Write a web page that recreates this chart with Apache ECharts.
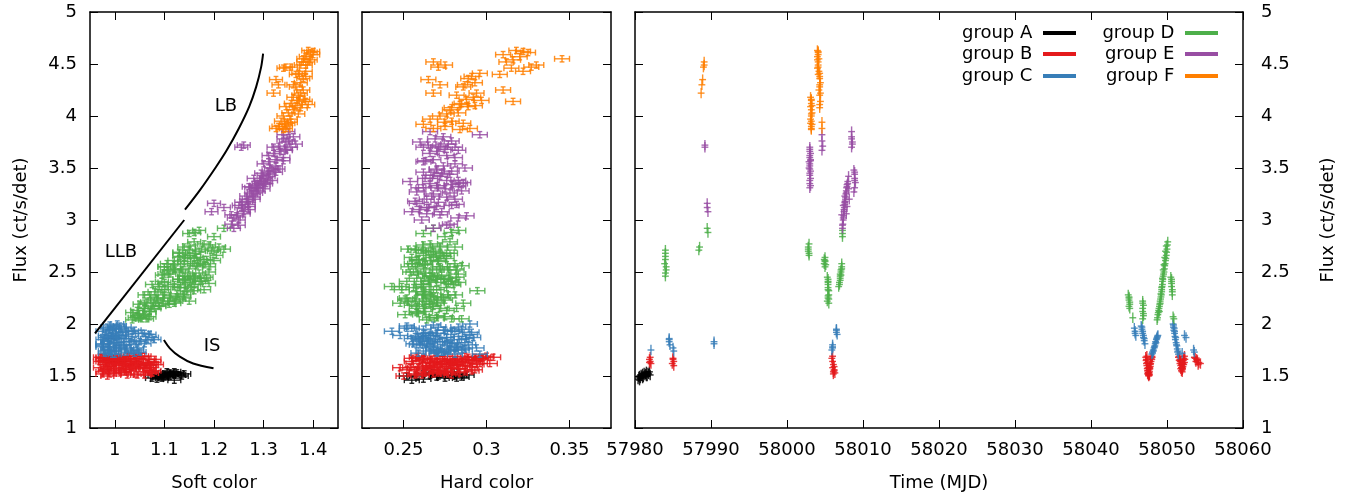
<!DOCTYPE html>
<html>
<head>
<meta charset="utf-8">
<script src="https://cdn.jsdelivr.net/npm/echarts@6/dist/echarts.min.js"></script>
<style>
html,body{margin:0;padding:0;background:#fff;}
#chart{width:1359px;height:497px;}
</style>
</head>
<body>
<div id="chart"></div>
<script>
// ---------- DATA: each point is [time (MJD), flux, soft color, hard color] ----------
const groupA = [
  [57980.4,1.47,1.085,0.262],[57980.5,1.49,1.10,0.270],[57980.6,1.50,1.11,0.258],
  [57980.7,1.48,1.095,0.275],[57980.8,1.51,1.12,0.266],[57980.9,1.50,1.105,0.281],
  [57981.0,1.52,1.115,0.272],[57981.1,1.49,1.09,0.285],[57981.2,1.53,1.125,0.268],
  [57981.3,1.51,1.13,0.277],[57981.4,1.52,1.10,0.262],[57981.5,1.54,1.12,0.279],
  [57981.6,1.50,1.135,0.271],[57981.7,1.53,1.11,0.283],[57981.8,1.52,1.14,0.267],
  [57981.9,1.54,1.105,0.276],[57982.0,1.51,1.08,0.288],[57980.6,1.46,1.12,0.255],
  [57981.0,1.48,1.075,0.282],[57981.5,1.50,1.095,0.252]
];
const groupB = [
  [57981.9,1.66,0.99,0.262],[57982.0,1.64,1.02,0.270],[57982.0,1.68,1.005,0.258],
  [57982.1,1.62,1.045,0.276],[57981.9,1.63,0.98,0.266],
  [57985.0,1.66,1.01,0.272],[57985.1,1.64,1.035,0.281],[57984.9,1.62,0.995,0.268],
  [57985.1,1.60,1.06,0.284],[57985.0,1.67,0.975,0.255],
  [58005.9,1.67,1.00,0.262],[58006.0,1.64,1.03,0.275],[58006.1,1.61,1.05,0.280],
  [58006.0,1.58,1.07,0.269],[58006.2,1.56,1.02,0.258],[58006.1,1.54,0.975,0.287],
  [58006.2,1.59,0.985,0.264],[58006.3,1.53,1.075,0.272],
  [58006.1,1.52,0.99,0.277],[58006.2,1.55,1.08,0.266],[58006.0,1.69,1.055,0.259],
  [58047.2,1.68,0.97,0.298],[58047.25,1.65,0.985,0.292],[58047.3,1.62,1.00,0.302],
  [58047.35,1.60,1.015,0.287],[58047.4,1.57,1.03,0.279],[58047.45,1.55,1.07,0.271],
  [58047.5,1.53,1.00,0.263],[58047.55,1.51,1.045,0.257],[58047.6,1.50,0.985,0.250],
  [58047.65,1.52,1.04,0.268],[58047.7,1.54,1.02,0.275],[58047.75,1.57,1.00,0.283],
  [58047.8,1.59,0.99,0.290],[58047.85,1.62,1.025,0.296],[58047.9,1.64,0.98,0.285],
  [58048.0,1.66,1.005,0.278],[58048.05,1.68,0.975,0.293],[58047.5,1.58,1.035,0.248],
  [58047.3,1.66,1.07,0.281],[58047.4,1.63,1.08,0.266],[58047.45,1.52,0.975,0.258],
  [58047.5,1.55,0.99,0.272],[58047.55,1.53,1.01,0.284],[58047.6,1.51,1.025,0.261],
  [58047.65,1.56,0.98,0.293],[58047.7,1.58,1.065,0.254],[58047.8,1.61,1.075,0.276],
  [58047.9,1.67,1.05,0.269],[58048.0,1.69,1.03,0.300],[58047.35,1.69,1.04,0.287],
  [58047.6,1.53,1.075,0.270],[58047.7,1.51,1.06,0.279],
  [58051.5,1.68,0.98,0.289],[58051.6,1.65,1.00,0.281],[58051.7,1.62,1.02,0.273],
  [58051.8,1.60,1.04,0.266],[58051.9,1.58,1.06,0.259],[58052.0,1.56,1.03,0.252],
  [58052.05,1.57,1.05,0.262],[58052.1,1.59,1.03,0.270],[58052.2,1.61,1.01,0.278],
  [58052.3,1.63,0.99,0.286],[58052.35,1.66,1.015,0.294],[58051.75,1.64,0.97,0.255],
  [58051.95,1.61,1.085,0.282],[58052.15,1.65,0.995,0.260],
  [58051.6,1.69,1.06,0.275],[58051.7,1.66,1.08,0.262],[58051.8,1.57,0.985,0.283],
  [58051.9,1.55,1.01,0.291],[58052.0,1.58,0.97,0.268],[58052.1,1.62,1.065,0.256],
  [58052.2,1.67,1.045,0.297],[58052.3,1.69,1.025,0.270],[58052.0,1.54,1.07,0.276],
  [58053.6,1.68,1.01,0.304],[58053.7,1.67,0.985,0.296],[58053.9,1.66,1.04,0.288],
  [58054.0,1.65,1.02,0.291],[58054.2,1.63,1.055,0.283],[58054.4,1.62,0.995,0.277],
  [58053.8,1.64,0.975,0.279],[58054.1,1.61,1.07,0.294]
];
const groupC = [
  [57982.1,1.75,0.99,0.268],
  [57984.5,1.86,1.01,0.262],[57984.5,1.83,0.985,0.275],[57984.6,1.80,1.02,0.258],
  [57984.5,1.85,0.975,0.285],
  [57985.0,1.77,1.00,0.282],[57985.1,1.74,1.035,0.270],
  [57990.4,1.83,1.05,0.266],[57990.4,1.81,1.06,0.279],
  [58006.0,1.80,0.975,0.289],[58006.0,1.77,1.01,0.294],[58005.9,1.75,1.045,0.277],
  [58006.0,1.78,0.99,0.268],
  [58006.5,1.95,0.99,0.285],[58006.5,1.92,1.015,0.291],[58006.6,1.90,1.07,0.290],
  [58006.5,1.94,1.04,0.275],
  [58045.7,1.96,1.00,0.255],[58045.8,1.93,1.025,0.243],[58045.9,1.89,0.98,0.248],
  [58045.8,1.91,0.995,0.262],
  [58046.6,1.98,1.01,0.252],[58046.7,1.95,0.995,0.262],[58046.8,1.91,1.055,0.270],
  [58046.9,1.87,1.075,0.259],[58047.0,1.84,1.04,0.265],[58047.1,1.81,0.975,0.256],
  [58046.7,1.97,0.985,0.271],[58046.8,1.93,1.035,0.281],[58046.9,1.89,1.01,0.265],
  [58047.0,1.86,0.99,0.288],
  [58048.0,1.71,1.00,0.281],[58048.1,1.73,1.02,0.274],[58048.2,1.75,0.985,0.285],
  [58048.3,1.77,1.045,0.268],[58048.4,1.79,1.01,0.278],[58048.45,1.81,0.99,0.264],
  [58048.5,1.83,1.03,0.272],[58048.6,1.85,1.065,0.260],[58048.7,1.87,0.98,0.276],
  [58048.8,1.89,1.015,0.268],
  [58048.1,1.72,0.98,0.270],[58048.2,1.74,1.00,0.262],[58048.35,1.78,0.975,0.281],
  [58048.55,1.82,1.005,0.287],[58048.65,1.86,1.02,0.255],[58048.75,1.88,0.995,0.283],
  [58050.8,2.00,1.005,0.290],[58050.85,1.97,1.02,0.283],[58050.9,1.94,0.99,0.274],
  [58051.0,1.91,1.06,0.263],[58051.05,1.88,1.035,0.257],[58051.1,1.85,1.08,0.269],
  [58051.2,1.82,1.00,0.278],[58051.3,1.79,0.975,0.266],[58051.35,1.76,1.025,0.287],
  [58051.4,1.73,1.05,0.271],[58051.5,1.71,0.995,0.296],
  [58050.85,1.99,0.99,0.268],[58050.95,1.96,1.01,0.252],[58051.0,1.93,0.975,0.279],
  [58051.15,1.87,1.00,0.292],[58051.25,1.80,1.03,0.260],[58051.45,1.74,0.98,0.276],
  [58052.0,1.72,1.04,0.259],
  [58052.3,1.89,1.005,0.266],[58052.5,1.87,0.985,0.276],
  [58053.5,1.75,1.02,0.283],[58053.6,1.73,0.99,0.273]
];
const groupD = [
  [57984.0,2.71,1.15,0.262],[57984.0,2.65,1.13,0.270],[57983.9,2.58,1.16,0.255],
  [57984.1,2.52,1.12,0.277],[57984.0,2.46,1.14,0.266],
  [57984.0,2.62,1.185,0.259],[57984.1,2.55,1.10,0.272],[57984.0,2.49,1.17,0.263],
  [57984.0,2.68,1.16,0.276],
  [57988.4,2.71,1.195,0.259],[57988.5,2.74,1.21,0.272],
  [57989.5,2.92,1.22,0.268],[57989.6,2.88,1.16,0.279],
  [58002.8,2.74,1.14,0.281],[58002.8,2.70,1.17,0.265],[58002.9,2.66,1.205,0.274],
  [58002.8,2.72,1.22,0.257],[58002.9,2.68,1.13,0.278],[58002.9,2.77,1.18,0.266],
  [58004.9,2.62,1.18,0.258],[58005.0,2.60,1.14,0.271],[58005.1,2.57,1.12,0.263],[58005.0,2.55,1.19,0.278],
  [58005.0,2.61,1.20,0.266],[58004.9,2.58,1.105,0.281],[58005.0,2.64,1.165,0.268],
  [58005.3,2.45,1.16,0.268],[58005.4,2.40,1.10,0.283],[58005.4,2.35,1.13,0.256],
  [58005.5,2.32,1.16,0.2945],[58005.4,2.25,1.085,0.274],[58005.5,2.20,1.12,0.286],
  [58005.4,2.43,1.13,0.275],[58005.4,2.38,1.16,0.262],[58005.5,2.28,1.14,0.281],
  [58005.3,2.22,1.15,0.253],[58005.4,2.27,1.11,0.266],
  [58005.4,2.33,1.095,0.270],[58005.4,2.41,1.175,0.252],[58005.5,2.24,1.13,0.262],
  [58006.8,2.36,1.09,0.262],[58006.9,2.40,1.15,0.270],[58007.0,2.44,1.18,0.277],
  [58007.0,2.48,1.11,0.259],[58007.1,2.52,1.135,0.282],[58007.2,2.55,1.10,0.253],
  [58006.9,2.38,1.12,0.280],[58007.0,2.46,1.16,0.266],[58007.1,2.50,1.19,0.254],[58007.2,2.53,1.15,0.272],
  [58007.0,2.42,1.14,0.265],[58007.1,2.47,1.095,0.273],[58007.2,2.58,1.17,0.260],
  [58007.3,2.90,1.17,0.283],[58007.3,2.84,1.20,0.275],[58007.3,2.87,1.15,0.262],
  [58044.9,2.28,1.07,0.262],[58045.0,2.25,1.10,0.252],[58045.1,2.21,1.065,0.270],[58045.0,2.17,1.09,0.258],
  [58045.0,2.23,1.08,0.275],[58045.1,2.19,1.11,0.266],[58045.0,2.26,1.125,0.268],[58045.1,2.15,1.06,0.262],
  [58045.5,2.06,1.04,0.266],
  [58046.8,2.20,1.06,0.248],[58046.8,2.15,1.08,0.272],[58046.9,2.10,1.05,0.259],[58046.8,2.05,1.065,0.279],
  [58046.8,2.12,1.07,0.263],[58046.9,2.18,1.09,0.255],[58046.9,2.08,1.045,0.270],[58046.8,2.22,1.12,0.264],
  [58048.7,2.04,1.035,0.264],[58048.8,2.09,1.06,0.251],[58048.9,2.13,1.045,0.276],
  [58049.0,2.17,1.075,0.268],[58049.1,2.22,1.11,0.257],[58049.2,2.26,1.14,0.273],
  [58049.3,2.31,1.08,0.262],[58049.35,2.36,1.12,0.249],[58049.4,2.41,1.095,0.279],
  [58049.5,2.46,1.15,0.267],[58049.6,2.50,1.13,0.256],[58049.7,2.56,1.165,0.285],
  [58049.8,2.61,1.12,0.271],[58049.9,2.66,1.15,0.262],[58050.0,2.72,1.175,0.253],
  [58050.1,2.79,1.16,0.278],
  [58048.75,2.06,1.05,0.270],[58048.85,2.11,1.035,0.258],[58048.95,2.15,1.06,0.282],
  [58049.05,2.19,1.05,0.263],[58049.15,2.24,1.085,0.251],[58049.25,2.28,1.06,0.277],
  [58049.3,2.33,1.10,0.268],[58049.4,2.38,1.075,0.261],[58049.45,2.43,1.13,0.274],
  [58049.55,2.48,1.10,0.283],[58049.65,2.53,1.12,0.262],[58049.75,2.58,1.14,0.257],
  [58049.85,2.63,1.16,0.276],[58049.95,2.69,1.13,0.268],[58050.05,2.76,1.19,0.262],
  [58049.0,2.12,1.07,0.258],[58049.1,2.20,1.095,0.270],[58049.2,2.29,1.125,0.262],
  [58049.3,2.35,1.14,0.276],[58049.4,2.44,1.16,0.258],[58049.5,2.52,1.105,0.270],
  [58049.6,2.57,1.18,0.263],[58049.7,2.64,1.14,0.255],[58049.8,2.70,1.20,0.268],
  [58049.9,2.75,1.15,0.272],
  [58050.5,2.45,1.185,0.282],[58050.6,2.41,1.17,0.265],[58050.6,2.36,1.155,0.243],[58050.7,2.31,1.145,0.258],
  [58050.6,2.39,1.19,0.277],[58050.7,2.33,1.18,0.249],[58050.6,2.43,1.14,0.270],[58050.7,2.28,1.10,0.263],
  [58050.8,2.07,1.07,0.275],[58050.9,2.05,1.055,0.285]
];
const groupE = [
  [57989.2,3.72,1.26,0.265],[57989.2,3.70,1.255,0.271],
  [57989.5,3.16,1.20,0.258],[57989.5,3.12,1.22,0.264],[57989.6,3.08,1.195,0.255],
  [58003.0,3.70,1.32,0.262],[58003.0,3.66,1.335,0.270],[58003.0,3.62,1.31,0.276],
  [58003.1,3.58,1.325,0.268],[58003.0,3.54,1.30,0.281],[58002.9,3.50,1.315,0.287],
  [58003.0,3.45,1.295,0.273],[58003.1,3.40,1.28,0.266],[58003.0,3.35,1.29,0.284],
  [58003.0,3.31,1.275,0.259],
  [58003.0,3.68,1.345,0.275],[58003.1,3.64,1.32,0.266],[58003.0,3.60,1.34,0.281],
  [58002.9,3.56,1.31,0.262],[58003.0,3.52,1.325,0.274],[58003.1,3.47,1.31,0.279],
  [58003.0,3.43,1.30,0.268],[58003.0,3.38,1.295,0.276],[58003.1,3.33,1.285,0.270],
  [58003.0,3.49,1.33,0.270],[58003.1,3.57,1.34,0.263],
  [58004.6,3.82,1.34,0.296],[58004.6,3.76,1.35,0.279],[58004.7,3.71,1.33,0.272],[58004.6,3.67,1.345,0.283],
  [58007.3,2.92,1.24,0.268],[58007.35,2.96,1.235,0.278],[58007.4,3.00,1.25,0.261],
  [58007.45,3.04,1.245,0.288],[58007.5,3.08,1.26,0.273],[58007.55,3.12,1.255,0.265],
  [58007.6,3.15,1.27,0.282],[58007.65,3.18,1.265,0.257],[58007.7,3.22,1.28,0.276],
  [58007.75,3.25,1.275,0.268],[58007.8,3.28,1.29,0.285],[58007.85,3.31,1.285,0.262],
  [58007.9,3.34,1.30,0.279],[58008.0,3.37,1.295,0.254],
  [58007.3,2.95,1.25,0.276],[58007.4,3.02,1.24,0.283],[58007.5,3.10,1.27,0.260],
  [58007.6,3.17,1.255,0.271],[58007.7,3.20,1.27,0.264],[58007.8,3.26,1.285,0.278],
  [58007.9,3.32,1.27,0.283],[58008.0,3.35,1.305,0.266],
  [58007.2,3.05,1.235,0.272],[58007.4,3.14,1.25,0.279],[58007.6,3.23,1.265,0.267],
  [58007.8,3.06,1.26,0.264],[58008.1,3.30,1.30,0.275],[58008.2,3.20,1.28,0.281],
  [58007.9,3.13,1.27,0.270],[58008.1,3.42,1.31,0.272],
  [58008.5,3.85,1.35,0.266],[58008.5,3.80,1.36,0.274],[58008.6,3.75,1.345,0.260],[58008.5,3.70,1.355,0.281],
  [58008.5,3.78,1.34,0.269],[58008.6,3.73,1.365,0.277],
  [58008.8,3.48,1.32,0.270],[58008.9,3.44,1.31,0.278],[58008.9,3.40,1.305,0.263],
  [58009.0,3.36,1.30,0.286],[58008.9,3.31,1.285,0.271],[58008.8,3.27,1.28,0.258],
  [58008.9,3.46,1.325,0.262],[58008.9,3.38,1.315,0.283]
];
const groupF = [
  [57989.1,4.52,1.38,0.268],[57989.1,4.49,1.385,0.275],[57989.0,4.47,1.345,0.271],
  [57988.9,4.35,1.325,0.265],[57988.8,4.30,1.33,0.272],[57988.7,4.22,1.32,0.268],
  [58003.1,4.18,1.36,0.292],[58003.2,4.15,1.37,0.297],[58003.2,4.12,1.355,0.285],
  [58003.1,4.09,1.345,0.289],[58003.2,4.06,1.36,0.278],[58003.3,4.03,1.35,0.283],
  [58003.2,4.00,1.34,0.272],[58003.1,3.97,1.355,0.266],[58003.2,3.95,1.335,0.279],
  [58003.3,3.92,1.345,0.262],[58003.2,3.90,1.33,0.275],[58003.2,3.87,1.34,0.284],
  [58003.2,4.16,1.38,0.288],[58003.3,4.10,1.365,0.293],[58003.2,4.02,1.37,0.276],
  [58003.1,3.93,1.35,0.286],[58003.2,3.88,1.325,0.268],
  [58004.0,4.63,1.39,0.318],[58004.1,4.61,1.395,0.325],[58004.1,4.59,1.40,0.310],
  [58004.0,4.57,1.385,0.320],[58004.2,4.55,1.38,0.3455],[58004.1,4.52,1.39,0.312],
  [58004.1,4.49,1.375,0.330],[58004.0,4.46,1.34,0.315],[58004.2,4.43,1.385,0.322],
  [58004.1,4.40,1.365,0.308],
  [58004.1,4.62,1.40,0.322],[58004.0,4.54,1.395,0.316],[58004.1,4.47,1.355,0.327],
  [58004.3,4.41,1.37,0.296],[58004.3,4.36,1.38,0.289],[58004.4,4.32,1.375,0.293],
  [58004.3,4.28,1.365,0.286],[58004.2,4.25,1.38,0.310],[58004.3,4.20,1.37,0.282],
  [58004.4,4.14,1.385,0.316],[58004.3,4.08,1.375,0.279],
  [58004.3,4.38,1.385,0.291],[58004.3,4.30,1.36,0.287],[58004.4,4.22,1.375,0.294],
  [58004.3,4.11,1.39,0.284],
  [58004.6,3.94,1.355,0.275],[58004.6,3.88,1.345,0.290]
];
const groupNames = ['group A','group B','group C','group D','group E','group F'];
const groupColors = ['#000000','#e41a1c','#377eb8','#4daf4a','#984ea3','#ff7f00'];
const groups = [groupA, groupB, groupC, groupD, groupE, groupF];

// tick values
const softTicks = [1, 1.1, 1.2, 1.3, 1.4];
const hardTicks = [0.25, 0.3, 0.35];

// annotation curves in the soft-colour panel: [soft, flux]
const llbLine = [[0.960,1.91],[1.140,3.00]];
const lbCurve = [[1.1415,3.10],[1.172,3.29],[1.204,3.51],[1.2256,3.67],[1.250,3.88],[1.271,4.09],[1.285,4.28],[1.295,4.47],[1.299,4.60]];
const isCurve = [[1.099,1.846],[1.111,1.766],[1.131,1.686],[1.158,1.62],[1.199,1.574]];
const annoNames = ['LB','LLB','IS'];
const annoPos = [[1.224,4.09],[1.0125,2.69],[1.196,1.79]];

// error bar half-sizes
const softErr = 0.013, hardErr = 0.0045, fluxErr = 0.03;
const timeErr = 0.45, timeFluxErr = 0.05;

// ---------- CHART ----------
const FONT = 'DejaVu Sans';
const chart = echarts.init(document.getElementById('chart'), null, {renderer:'canvas'});

function errRender(ex, ey, cap) {
  return function (params, api) {
    const x = api.value(0), y = api.value(1);
    const c = api.coord([x, y]);
    const xl = api.coord([x - ex, y])[0], xr = api.coord([x + ex, y])[0];
    const yt = api.coord([x, y + ey])[1], yb = api.coord([x, y - ey])[1];
    const color = api.visual('color');
    const st = () => ({stroke: color, lineWidth: 1.4, opacity: 0.85});
    const ch = [
      {type:'line', shape:{x1:xl, y1:c[1], x2:xr, y2:c[1]}, style: st()},
      {type:'line', shape:{x1:c[0], y1:yt, x2:c[0], y2:yb}, style: st()}
    ];
    if (cap) {
      ch.push({type:'line', shape:{x1:xl, y1:c[1]-cap, x2:xl, y2:c[1]+cap}, style: st()});
      ch.push({type:'line', shape:{x1:xr, y1:c[1]-cap, x2:xr, y2:c[1]+cap}, style: st()});
      ch.push({type:'line', shape:{x1:c[0]-cap*0.8, y1:yt, x2:c[0]+cap*0.8, y2:yt}, style: st()});
      ch.push({type:'line', shape:{x1:c[0]-cap*0.8, y1:yb, x2:c[0]+cap*0.8, y2:yb}, style: st()});
    }
    return {type:'group', children: ch};
  };
}

const axisLine = {show:true, onZero:false, lineStyle:{color:'#000', width:1.5}};
const tickStyle = {color:'#000', width:1};
const labelStyle = {color:'#000', fontFamily:FONT, fontSize:18};

function xAxisDef(grid, min, max, pos, ticks, interval, name) {
  const a = {
    type:'value', gridIndex:grid, min:min, max:max, position:pos,
    axisLine: axisLine, splitLine:{show:false},
    axisTick:{show:true, inside:true, length:8, lineStyle:tickStyle},
    axisLabel:{show: pos === 'bottom', margin:13, ...labelStyle, formatter: v => String(v)}
  };
  if (ticks) { a.axisTick.customValues = ticks; a.axisLabel.customValues = ticks; }
  if (interval) a.interval = interval;
  if (name) {
    a.name = name; a.nameLocation = 'middle'; a.nameGap = 46;
    a.nameTextStyle = {...labelStyle};
  }
  return a;
}
function yAxisDef(grid, pos, showLabel, name, nameGap, margin) {
  const a = {
    type:'value', gridIndex:grid, min:1, max:5, interval:0.5, position:pos,
    axisLine: axisLine, splitLine:{show:false},
    axisTick:{show:true, inside:true, length:8, lineStyle:tickStyle},
    axisLabel:{show: showLabel, margin: margin || 13, ...labelStyle, formatter: v => String(v)}
  };
  if (name) {
    a.name = name; a.nameLocation = 'middle'; a.nameGap = nameGap; a.nameRotate = 90;
    a.nameTextStyle = {...labelStyle};
  }
  return a;
}

const series = [];
groups.forEach((g, i) => {
  const common = {
    type:'custom', name: groupNames[i], clip: true,
    itemStyle:{color: groupColors[i]}, silent: true, animation: false
  };
  series.push({...common, xAxisIndex:0, yAxisIndex:0,
    renderItem: errRender(softErr, fluxErr, 3), data: g.map(p => [p[2], p[1]])});
  series.push({...common, xAxisIndex:2, yAxisIndex:2,
    renderItem: errRender(hardErr, fluxErr, 3), data: g.map(p => [p[3], p[1]])});
  series.push({...common, xAxisIndex:4, yAxisIndex:5,
    renderItem: errRender(timeErr, timeFluxErr, 0), data: g.map(p => [p[0], p[1]])});
});
[llbLine, lbCurve, isCurve].forEach((d, k) => {
  series.push({
    type:'line', name:'anno'+k, xAxisIndex:0, yAxisIndex:0, data:d,
    showSymbol:false, symbol:'none', smooth: k === 0 ? false : 0.3, silent:true, animation:false,
    lineStyle:{color:'#000', width:2}, z:5
  });
});
series.push({
  type:'custom', name:'labels', xAxisIndex:0, yAxisIndex:0, data: annoPos,
  silent:true, animation:false, z:6,
  renderItem: function (params, api) {
    const c = api.coord([api.value(0), api.value(1)]);
    return {type:'text', x:c[0], y:c[1], style:{
      text: annoNames[params.dataIndex], fill:'#000', font:'18px "DejaVu Sans"',
      align:'center', verticalAlign:'middle'
    }};
  }
});

const legendRows = [23, 44, 66];
const legends = groupNames.map((n, i) => ({
  data:[n], orient:'vertical', align:'right', icon:'rect',
  itemWidth:33, itemHeight:4, padding:0, selectedMode:false,
  right: i < 3 ? 283 : 141, top: legendRows[i % 3],
  textStyle:{...labelStyle, lineHeight:20},
  formatter: name => name + ' '
}));

chart.setOption({
  backgroundColor:'#ffffff',
  animation:false,
  textStyle:{fontFamily:FONT},
  grid:[
    {left:90, width:248, top:12, height:416},
    {left:362, width:249, top:12, height:416},
    {left:635, width:608, top:12, height:416}
  ],
  xAxis:[
    xAxisDef(0, 0.95, 1.45, 'bottom', softTicks, null, 'Soft color'),
    xAxisDef(0, 0.95, 1.45, 'top', softTicks, null, null),
    xAxisDef(1, 0.225, 0.375, 'bottom', hardTicks, null, 'Hard color'),
    xAxisDef(1, 0.225, 0.375, 'top', hardTicks, null, null),
    xAxisDef(2, 57980, 58060, 'bottom', null, 10, 'Time (MJD)'),
    xAxisDef(2, 57980, 58060, 'top', null, 10, null)
  ],
  yAxis:[
    yAxisDef(0, 'left', true, 'Flux (ct/s/det)', 60, 13),
    yAxisDef(0, 'right', false),
    yAxisDef(1, 'left', false),
    yAxisDef(1, 'right', false),
    yAxisDef(2, 'left', false),
    yAxisDef(2, 'right', true, 'Flux (ct/s/det)', 76, 18)
  ],
  legend: legends,
  series: series
});
</script>
</body>
</html>
